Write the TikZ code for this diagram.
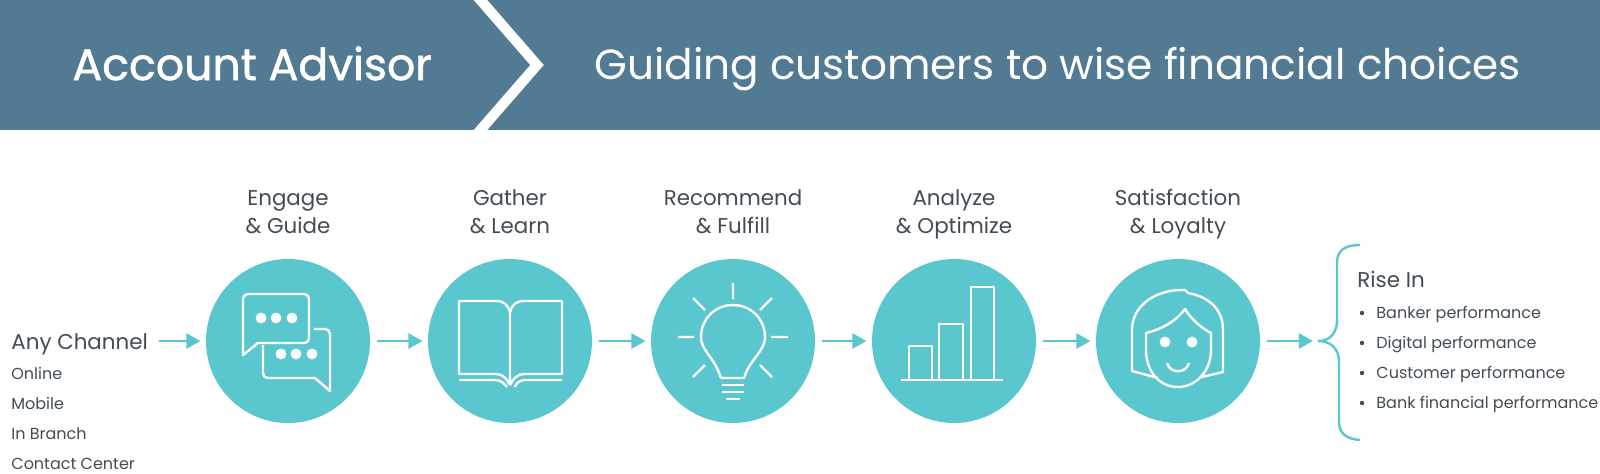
\documentclass[tikz,border=0pt]{standalone}
\usepackage{fontspec}
\setmainfont{Poppins}
\newfontfamily\heavyish[FakeBold=1.3]{Poppins}
\usetikzlibrary{arrows.meta}
\definecolor{banner}{HTML}{527A92}
\definecolor{teal}{HTML}{5AC6CE}
\definecolor{ink}{HTML}{414C54}
\tikzset{
 x=0.5pt,y=-0.5pt,
 disc/.style={circle,fill=teal,minimum size=82pt,inner sep=0pt},
 icon/.style={draw=white,line width=1.2pt,line join=round},
 dotw/.style={fill=white,circle,inner sep=0pt,minimum size=5.4pt},
 flow/.style={draw=teal,line width=1.2pt,-{Triangle[length=7pt,width=7.6pt]},shorten <=3.5pt,shorten >=2.6pt},
 head/.style={text=ink,font=\fontsize{10.7}{13.8}\selectfont,align=center,inner sep=0pt},
 small/.style={text=ink,font=\fontsize{8}{10}\selectfont,anchor=base west,inner sep=0pt},
 big/.style={text=ink,font=\fontsize{10.7}{12}\selectfont,anchor=base west,inner sep=0pt},
}
\begin{document}
\begin{tikzpicture}
\useasboundingbox (0,0) rectangle (1600,473);
\fill[banner] (0,0) rectangle (1600,130);
\draw[white,line width=5.1pt,miter limit=10] (473.5,-8) -- (537,65) -- (473.5,138);
\fill[white] (0,130) rectangle (1600,150);
\node[text=white,font=\fontsize{22.1}{24}\heavyish,anchor=base west,inner sep=0pt] (t1) at (72,80) {Account Advisor};
\node[text=white,font=\fontsize{21.1}{24}\selectfont,anchor=base west,inner sep=0pt] (t2) at (594,79) {Guiding customers to wise financial choices};

\node[disc] (c1) at (288,341) {};
\node[disc] (c2) at (510,341) {};
\node[disc] (c3) at (733,341) {};
\node[disc] (c4) at (954,341) {};
\node[disc] (c5) at (1178,341) {};

\node[head] (h1) at (288,214) {\strut Engage\\\strut\& Guide};
\node[head] (h2) at (510,214) {\strut Gather\\\strut\& Learn};
\node[head] (h3) at (733,214) {\strut Recommend\\\strut\& Fulfill};
\node[head] (h4) at (954,214) {\strut Analyze\\\strut\& Optimize};
\node[head] (h5) at (1178,214) {\strut Satisfaction\\\strut\& Loyalty};

\node[big] (any) at (11,349) {Any Channel};
\node[small] (l1) at (11,379) {Online};
\node[small] (l2) at (11,409) {Mobile};
\node[small] (l3) at (11,439) {In Branch};
\node[small] (l4) at (11,469) {Contact Center};

\node[big] (rise) at (1357,287) {Rise In};
\node[small] (r1) at (1376,318) {Banker performance};
\node[small] (r2) at (1376,348) {Digital performance};
\node[small] (r3) at (1376,378) {Customer performance};
\node[small] (r4) at (1376,408) {Bank financial performance};
\foreach \n/\yy in {1/313,2/343,3/373,4/403}
  \node[circle,fill=ink,inner sep=0pt,minimum size=2.2pt] (b\n) at (1362,\yy) {};

% connectors
\coordinate (start) at (159,341);
\coordinate (bt) at (1318,341);
\draw[flow,shorten <=0pt] (start) -- (c1.west);
\draw[flow] (c1.east) -- (c2.west);
\draw[flow] (c2.east) -- (c3.west);
\draw[flow] (c3.east) -- (c4.west);
\draw[flow] (c4.east) -- (c5.west);
\draw[flow] (c5.east) -- (bt);

% brace
\draw[teal,line width=1.2pt] (1360,245) .. controls (1345,245) and (1337,250) .. (1337,263) -- (1337,320)
  .. controls (1337,333) and (1330,341) .. (bt)
  .. controls (1330,341) and (1339,348) .. (1339,362) -- (1339,422)
  .. controls (1339,433) and (1346,439) .. (1360,440);

% chat icon
\draw[icon] (249,294) -- (303,294) .. controls (307,294) and (309,296) .. (309,300) -- (309,337)
  .. controls (309,341) and (307,343) .. (303,343) -- (258,343) -- (243,355) -- (243,300)
  .. controls (243,296) and (245,294) .. (249,294) -- cycle;
\draw[icon] (314,329) -- (325,329) .. controls (328,329) and (330,331) .. (330,334) -- (330,391) -- (315,378)
  -- (268,378) .. controls (265,378) and (263,376) .. (263,373) -- (263,345);
\foreach \xx/\n in {261/a,276/b,292/c} \node[dotw] (d\n) at (\xx,318) {};
\foreach \xx/\n in {281/e,296/f,312/g} \node[dotw] (d\n) at (\xx,354) {};

% book icon
\draw[icon] (510,385) -- (510,312) .. controls (508,305) and (504,301) .. (496,301) -- (459,301) -- (459,374) -- (496,374)
  .. controls (503,374) and (507,379) .. (510,385);
\draw[icon] (510,312) .. controls (512,305) and (516,301) .. (524,301) -- (562,301) -- (562,374) -- (524,374)
  .. controls (517,374) and (513,379) .. (510,385);
\draw[icon] (459,380) -- (494,380) .. controls (501,380) and (504,383) .. (507,387);
\draw[icon] (562,380) -- (526,380) .. controls (519,380) and (516,383) .. (515,387);

% bulb icon
\draw[icon] (721,378) -- (744,378) .. controls (748,366) and (753,361) .. (758,354)
  .. controls (762,348) and (765,344) .. (765,337)
  .. controls (765,319) and (751,305) .. (733,305)
  .. controls (715,305) and (701,319) .. (701,337)
  .. controls (701,344) and (704,348) .. (708,354)
  .. controls (713,361) and (717,366) .. (721,378) -- cycle;
\draw[icon] (722,385) -- (744,385) (722,392) -- (744,392) (726,399) -- (740,399);
\draw[icon] (733,283) -- (733,299) (678,337) -- (694,337) (771,337) -- (788,337)
  (693,298) -- (705,310) (772,298) -- (760,310) (705,365) -- (693,377) (760,365) -- (772,377);

% bars icon
\draw[icon] (909,380) -- (909,346) -- (932,346) -- (932,380);
\draw[icon] (939,380) -- (939,324) -- (963,324) -- (963,380);
\draw[icon] (971,380) -- (971,287) -- (994,287) -- (994,380);
\draw[icon] (901,380) -- (1003,380);

% face icon
\draw[icon] (1158,378) -- (1132,371) -- (1132,330) .. controls (1132,306) and (1155,289) .. (1185,290)
  -- (1188,293) .. controls (1210,297) and (1223,310) .. (1223,330) -- (1223,372) -- (1202,377);
\draw[icon] (1146,333) .. controls (1162,329) and (1175,322) .. (1185,309)
  .. controls (1192,320) and (1200,327) .. (1211,333)
  -- (1211,350) .. controls (1211,372) and (1195,387) .. (1178,387)
  .. controls (1160,387) and (1146,372) .. (1146,350) -- cycle;
\node[dotw] (e1) at (1165,342) {};
\node[dotw] (e2) at (1192,342) {};
\draw[icon] (1167,363) .. controls (1170,374) and (1186,374) .. (1189,363);
\end{tikzpicture}
\end{document}
